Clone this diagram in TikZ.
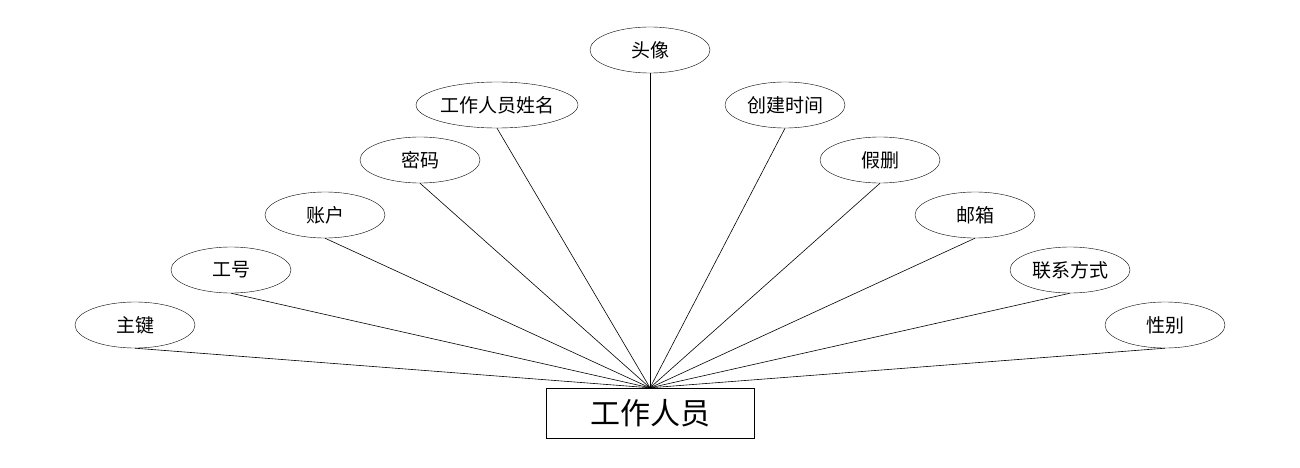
\documentclass[tikz,border=0pt]{standalone}
\usepackage{fontspec}
\setmainfont{Noto Sans CJK SC}
\usetikzlibrary{shapes.geometric}
\begin{document}
\begin{tikzpicture}[x=1pt,y=-1pt,
 attr/.style={draw,ellipse,minimum width=120pt,minimum height=46pt,inner sep=0pt,font=\fontsize{19}{22}\selectfont},
 ent/.style={draw,rectangle,minimum width=208pt,minimum height=50pt,inner sep=0pt,font=\fontsize{30}{34}\selectfont},
 lk/.style={draw,line width=0.6pt}]
\useasboundingbox (0,0) rectangle (1300,468);
\node[ent] (e) at (650,413) {工作人员};
\node[attr] (a1) at (135,325) {主键};
\node[attr] (a2) at (231,270) {工号};
\node[attr] (a3) at (325,215) {账户};
\node[attr] (a4) at (420,160) {密码};
\node[attr,minimum width=162pt] (a5) at (497,105) {工作人员姓名};
\node[attr] (a6) at (650,50) {头像};
\node[attr] (a7) at (785,105) {创建时间};
\node[attr] (a8) at (880,160) {假删};
\node[attr] (a9) at (975,215) {邮箱};
\node[attr] (a10) at (1070,270) {联系方式};
\node[attr] (a11) at (1165,325) {性别};
\foreach \i in {1,...,11} \draw[lk] (a\i.south) -- (e.north);
\end{tikzpicture}
\end{document}
